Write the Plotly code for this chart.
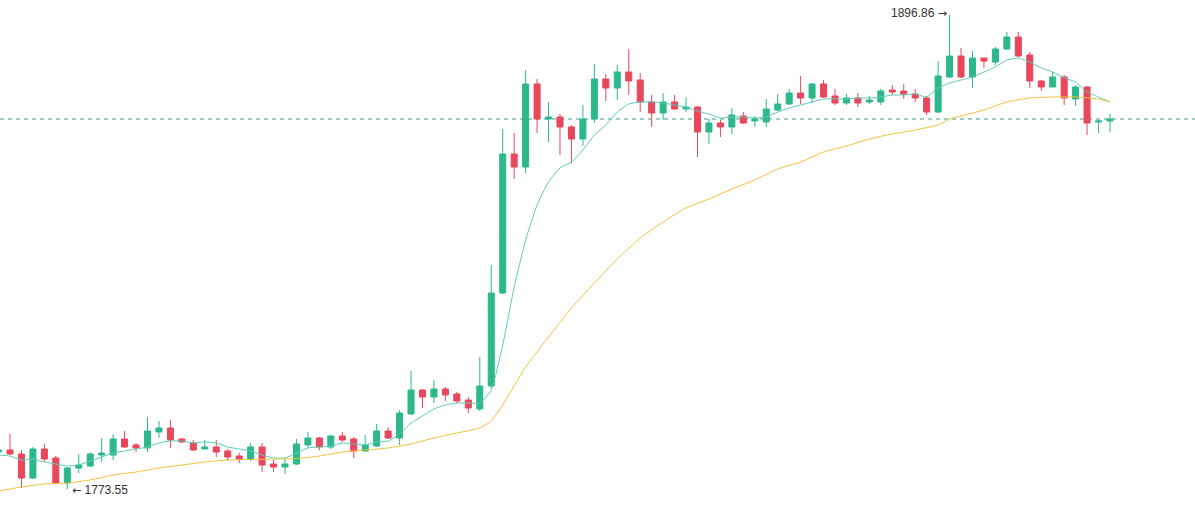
import plotly.graph_objects as go

# ---- data (price values) ----
opens = [1783.19, 1783.71, 1782.67, 1776.43, 1783.98, 1781.63, 1775.13, 1779.03, 1779.55, 1782.41,
         1782.41, 1786.58, 1785.02, 1784.24, 1788.40, 1789.44, 1786.58, 1785.54, 1783.98, 1784.50,
         1783.45, 1782.15, 1781.37, 1784.50, 1780.07, 1779.29, 1780.07, 1785.02, 1786.84, 1784.50,
         1787.36, 1786.58, 1783.45, 1784.76, 1788.66, 1786.84, 1793.08, 1799.32, 1797.50, 1799.58,
         1798.28, 1796.72, 1794.38, 1800.36, 1824.55, 1860.70, 1857.32, 1878.91, 1869.81, 1870.33,
         1867.73, 1864.61, 1869.81, 1880.21, 1877.87, 1882.03, 1879.95, 1874.23, 1871.37, 1874.23,
         1872.41, 1872.93, 1866.43, 1868.77, 1867.73, 1870.59, 1869.29, 1869.03, 1872.15, 1873.71,
         1876.57, 1875.27, 1878.91, 1875.79, 1873.97, 1875.27, 1874.23, 1874.23, 1877.35, 1877.09,
         1876.31, 1875.27, 1871.63, 1880.73, 1886.19, 1880.73, 1885.67, 1884.63, 1888.02, 1891.14,
         1886.45, 1879.69, 1878.13, 1880.73, 1875.01, 1878.13, 1869.03, 1869.29]
highs = [1784.24, 1787.88, 1783.71, 1784.50, 1785.28, 1782.15, 1779.29, 1782.67, 1783.19, 1786.84,
         1787.88, 1788.66, 1785.54, 1792.30, 1791.26, 1791.52, 1786.84, 1786.32, 1786.32, 1786.32,
         1783.98, 1782.93, 1785.54, 1785.54, 1781.11, 1781.37, 1786.58, 1788.40, 1787.10, 1787.62,
         1788.40, 1787.10, 1787.62, 1790.48, 1789.70, 1794.12, 1804.26, 1799.58, 1801.92, 1800.10,
         1798.80, 1797.50, 1807.90, 1831.83, 1867.21, 1866.17, 1882.55, 1880.21, 1874.23, 1871.11,
         1868.25, 1873.45, 1884.11, 1881.51, 1883.85, 1888.02, 1881.77, 1876.05, 1876.57, 1876.05,
         1875.53, 1873.19, 1869.81, 1869.55, 1872.67, 1871.63, 1870.59, 1875.01, 1876.31, 1877.61,
         1880.99, 1879.17, 1879.95, 1877.61, 1876.31, 1876.57, 1875.79, 1877.61, 1878.65, 1878.91,
         1877.61, 1875.79, 1884.89, 1896.86, 1888.28, 1887.49, 1885.67, 1888.54, 1892.44, 1892.44,
         1887.23, 1879.95, 1882.03, 1881.25, 1878.65, 1878.39, 1869.55, 1871.11]
lows = [1782.67, 1782.41, 1773.83, 1776.17, 1780.59, 1774.87, 1773.55, 1777.73, 1779.29, 1780.59,
        1781.11, 1784.24, 1783.19, 1783.19, 1786.84, 1784.24, 1785.54, 1783.45, 1783.98, 1781.89,
        1780.85, 1780.33, 1780.85, 1777.99, 1777.99, 1777.47, 1779.81, 1784.24, 1783.71, 1783.98,
        1785.80, 1781.63, 1783.19, 1784.50, 1786.58, 1785.02, 1792.82, 1794.64, 1795.94, 1796.46,
        1795.94, 1793.34, 1793.86, 1799.84, 1824.29, 1854.20, 1855.76, 1866.17, 1863.83, 1860.44,
        1858.36, 1862.79, 1868.77, 1874.49, 1874.75, 1876.05, 1871.63, 1867.73, 1869.55, 1872.15,
        1871.63, 1859.92, 1863.31, 1865.13, 1865.91, 1868.51, 1867.73, 1867.73, 1871.89, 1873.45,
        1873.71, 1873.97, 1875.27, 1873.45, 1873.45, 1872.93, 1873.71, 1873.45, 1876.05, 1875.01,
        1874.23, 1870.85, 1871.37, 1880.47, 1880.47, 1877.87, 1883.07, 1883.85, 1887.75, 1885.93,
        1877.87, 1877.09, 1878.13, 1873.45, 1873.19, 1865.65, 1866.17, 1866.43]
closes = [1783.71, 1782.67, 1776.43, 1783.98, 1781.37, 1775.13, 1779.03, 1779.81, 1782.67, 1782.93,
          1786.58, 1784.50, 1784.24, 1788.66, 1789.44, 1786.32, 1785.80, 1783.71, 1784.50, 1783.19,
          1781.89, 1781.37, 1784.50, 1779.81, 1779.29, 1780.07, 1785.28, 1786.84, 1784.50, 1787.36,
          1786.32, 1783.45, 1785.02, 1788.66, 1786.84, 1793.34, 1799.32, 1797.50, 1799.58, 1798.02,
          1796.46, 1794.64, 1800.36, 1824.55, 1860.70, 1857.32, 1878.91, 1869.81, 1870.33, 1867.73,
          1864.61, 1869.81, 1880.21, 1877.87, 1882.03, 1879.69, 1874.23, 1871.37, 1874.23, 1872.41,
          1872.93, 1866.43, 1868.77, 1867.73, 1870.85, 1868.77, 1869.81, 1872.41, 1873.71, 1876.57,
          1875.27, 1878.91, 1875.53, 1873.97, 1875.27, 1873.97, 1874.75, 1877.09, 1876.83, 1876.31,
          1875.27, 1871.63, 1880.99, 1886.19, 1880.73, 1885.67, 1884.89, 1888.02, 1891.14, 1886.19,
          1879.69, 1878.13, 1880.73, 1875.27, 1878.13, 1868.77, 1869.29, 1869.81]

ma_short = [1782.41, 1782.15, 1781.11, 1781.37, 1780.59, 1780.07, 1779.55, 1779.81, 1780.85, 1781.89,
            1782.93, 1783.45, 1783.98, 1784.50, 1785.54, 1786.06, 1786.06, 1785.54, 1785.80, 1785.54,
            1784.50, 1783.98, 1783.45, 1782.41, 1781.63, 1781.63, 1782.93, 1784.24, 1784.50, 1784.76,
            1785.54, 1785.28, 1785.02, 1785.80, 1786.06, 1787.88, 1790.74, 1792.56, 1794.38, 1795.42,
            1795.94, 1795.94, 1795.94, 1799.32, 1811.03, 1826.11, 1838.34, 1847.44, 1853.42, 1857.06,
            1858.62, 1861.74, 1865.65, 1868.25, 1871.63, 1873.71, 1874.23, 1874.23, 1873.97, 1873.45,
            1872.93, 1871.89, 1871.11, 1870.07, 1870.33, 1870.33, 1870.07, 1870.33, 1871.63, 1872.67,
            1873.45, 1874.23, 1875.01, 1875.01, 1875.01, 1875.27, 1875.27, 1875.53, 1876.05, 1876.05,
            1876.31, 1875.53, 1877.87, 1879.17, 1879.95, 1880.73, 1882.03, 1883.33, 1885.15, 1885.67,
            1884.63, 1883.07, 1882.03, 1880.47, 1879.43, 1876.83, 1875.53, 1874.23]

ma_long_idx = [0, 2, 4, 6, 8, 10, 12, 14, 16, 18, 20, 22, 24, 26, 28, 30, 32, 34, 36, 38, 40, 42, 43,
               44, 46, 48, 50, 52, 54, 56, 58, 60, 62, 64, 66, 68, 70, 72, 74, 76, 78, 80, 82, 83,
               84, 86, 88, 90, 92, 94, 96, 97]
ma_long = [1773.05, 1774.09, 1774.87, 1775.13, 1775.91, 1777.21, 1777.99, 1779.03, 1779.81, 1780.59,
           1781.11, 1781.24, 1781.37, 1781.50, 1782.15, 1783.19, 1783.71, 1784.24, 1785.28, 1786.84,
           1788.14, 1789.44, 1791.26, 1795.42, 1805.30, 1813.11, 1820.65, 1827.15, 1833.39, 1838.86,
           1843.02, 1846.66, 1849.00, 1851.60, 1853.94, 1856.80, 1858.62, 1861.22, 1862.79, 1864.61,
           1865.91, 1866.95, 1868.25, 1869.81, 1870.59, 1872.15, 1874.23, 1875.27, 1875.53, 1875.53,
           1875.01, 1874.23]

high_value = "1896.86"
low_value = "1773.55"

idx = list(range(len(opens)))
last_close = closes[-1]
hi_i = highs.index(max(highs))
lo_i = lows.index(min(lows))

UP = "#2DB88B"
DOWN = "#E8475C"
ARROW = '<span style="font-family:DejaVu Sans;font-size:11px">{}</span>'

fig = go.Figure()
fig.add_trace(go.Candlestick(
    x=idx, open=opens, high=highs, low=lows, close=closes,
    increasing=dict(line=dict(color=UP, width=1), fillcolor=UP),
    decreasing=dict(line=dict(color=DOWN, width=1), fillcolor=DOWN),
    whiskerwidth=0, hoverinfo="skip", showlegend=False,
))
fig.add_trace(go.Scatter(
    x=idx, y=ma_short, mode="lines",
    line=dict(color="#5DCBB4", width=1, shape="spline", smoothing=0.5),
    hoverinfo="skip", showlegend=False,
))
fig.add_trace(go.Scatter(
    x=ma_long_idx, y=ma_long, mode="lines",
    line=dict(color="#F2C23A", width=1, shape="spline", smoothing=0.5),
    hoverinfo="skip", showlegend=False,
))

fig.add_shape(type="line", xref="paper", x0=0, x1=1, yref="y",
              y0=last_close, y1=last_close,
              line=dict(color="#3F9C8A", width=1, dash="4px,4px"), layer="below")

fig.add_annotation(x=hi_i, y=highs[hi_i], text=high_value + " " + ARROW.format("→"),
                   showarrow=False, xanchor="right", yanchor="middle", xshift=-1, yshift=2,
                   font=dict(family="Liberation Sans, Arial, sans-serif", size=12, color="#333333"))
fig.add_annotation(x=lo_i, y=lows[lo_i], text=ARROW.format("←") + " " + low_value,
                   showarrow=False, xanchor="left", yanchor="middle", xshift=3, yshift=-1,
                   font=dict(family="Liberation Sans, Arial, sans-serif", size=12, color="#333333"))

fig.update_layout(
    width=1195, height=513,
    margin=dict(l=0, r=0, t=0, b=0),
    paper_bgcolor="white", plot_bgcolor="white",
    boxgap=0.25,
    showlegend=False,
    xaxis=dict(range=[0.127, 104.42], showticklabels=False, showgrid=False,
               zeroline=False, rangeslider=dict(visible=False), fixedrange=True),
    yaxis=dict(range=[1767.33, 1900.76], showticklabels=False, showgrid=True,
               gridcolor="#FBFBFB", dtick=20, tick0=1780, zeroline=False, fixedrange=True),
)

fig.write_html("out.html", config={"displayModeBar": False})
